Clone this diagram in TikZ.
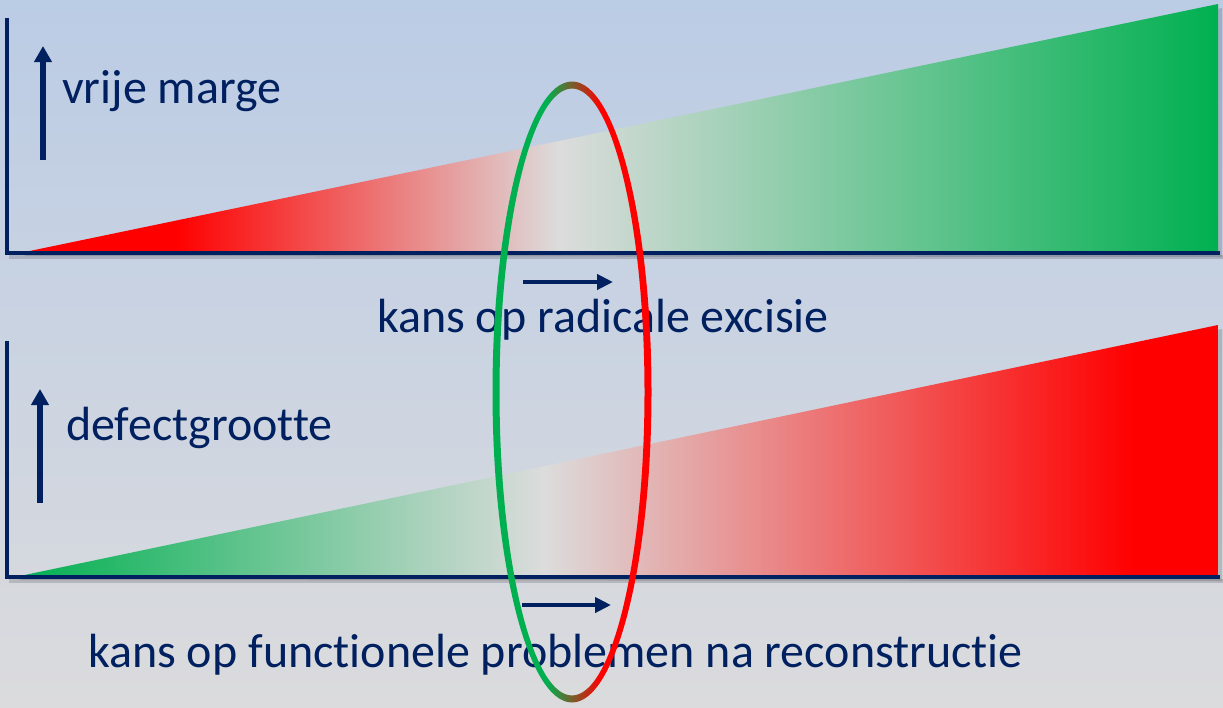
\documentclass[tikz,border=0pt]{standalone}
\usepackage{fontspec}
\setmainfont{Carlito}[Ligatures=NoCommon]
\usetikzlibrary{arrows.meta}
\definecolor{navy}{RGB}{0,32,96}
\definecolor{pgreen}{RGB}{0,176,80}
\definecolor{pred}{RGB}{255,0,0}
\definecolor{midgray}{RGB}{220,220,220}
\definecolor{bgtop}{RGB}{187,204,229}
\definecolor{bgbot}{RGB}{219,219,221}
\pgfdeclarehorizontalshading{topgrad}{100bp}{color(0bp)=(pred); color(31.5bp)=(pred); color(47.5bp)=(midgray); color(75bp)=(pgreen); color(100bp)=(pgreen)}
\pgfdeclarehorizontalshading{botgrad}{100bp}{color(0bp)=(pgreen); color(25bp)=(pgreen); color(47bp)=(midgray); color(71.5bp)=(pred); color(100bp)=(pred)}
\pgfdeclarehorizontalshading{ringgrad}{100bp}{color(0bp)=(pgreen); color(42bp)=(pgreen); color(59bp)=(pred); color(100bp)=(pred)}
\begin{document}
\begin{tikzpicture}[x=1pt,y=-1pt,
  axis/.style={draw=navy,line width=4pt,line join=miter},
  lbl/.style={text=navy,font=\fontsize{48}{58}\selectfont,inner sep=0pt,anchor=base west},
  uparrow/.style={draw=navy,line width=6pt,-{Triangle[length=16pt,width=17pt]}},
  rarrow/.style={draw=navy,line width=4.5pt,-{Triangle[length=16pt,width=15pt]}},
  shadow/.style={fill=black,fill opacity=0.15}]
\useasboundingbox (0,0) rectangle (1223,707);
\shade[top color=bgtop,bottom color=bgbot] (0,0) rectangle (1223,707);
% top panel
\fill[shadow] (23,256) -- (1222,8) -- (1222,257) -- cycle;
\fill[shadow] (9,255) rectangle (1223,259);
\shade[shading=topgrad] (20,253) -- (1218,4) -- (1218,253) -- cycle;
\draw[axis] (7,18) -- (7,253) -- (1220,253);
\draw[uparrow] (43,160) -- (43,46);
\node[lbl] (vm) at (62,103) {vrije marge};
\draw[rarrow] (523,282) -- (613,282);
\node[lbl] (kr) at (377,332) {kans op radicale excisie};
% bottom panel
\fill[shadow] (18,580) -- (1222,329) -- (1222,581) -- cycle;
\fill[shadow] (9,579) rectangle (1223,583);
\shade[shading=botgrad] (15,577) -- (1218,325) -- (1218,577) -- cycle;
\draw[axis] (7,341) -- (7,577) -- (1220,577);
\draw[uparrow] (40,503) -- (40,389);
\node[lbl] (dg) at (66,440) {defectgrootte};
\draw[rarrow] (522,605) -- (611,605);
\node[lbl] (kf) at (88,667) {kans op functionele problemen na reconstructie};
% ellipse ring
\shade[shading=ringgrad,even odd rule] (572,392) ellipse [x radius=79.5,y radius=310.5] (572,392) ellipse [x radius=72.5,y radius=303.5];
\end{tikzpicture}
\end{document}
